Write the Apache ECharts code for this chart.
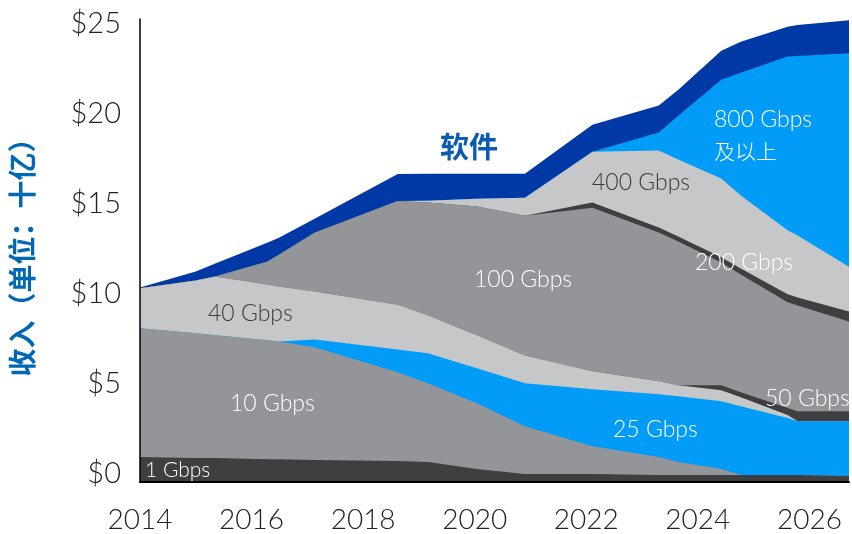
<!DOCTYPE html>
<html>
<head>
<meta charset="utf-8">
<script src="https://cdn.jsdelivr.net/npm/echarts@6/dist/echarts.min.js"></script>
<style>
html,body{margin:0;padding:0;background:#fff;}
#c{width:852px;height:534px;}
</style>
</head>
<body>
<div id="c"></div>
<script>
// x positions (years) where the stacked bands change slope
const years = [2014.00, 2015.00, 2015.35, 2016.28, 2016.49, 2017.13, 2018.62, 2019.16, 2020.04, 2020.90, 2022.11, 2023.30, 2023.65, 2024.42, 2024.77, 2025.61, 2025.79, 2026.71];
// revenue by port speed, $B (stacked from bottom)
const g1   = [1.39, 1.33, 1.33, 1.27, 1.27, 1.22, 1.16, 1.11, 0.72, 0.44, 0.44, 0.39, 0.39, 0.39, 0.39, 0.39, 0.39, 0.33];
const g10  = [7.15, 6.93, 6.82, 6.60, 6.54, 6.26, 4.93, 4.38, 3.66, 2.66, 1.55, 1.00, 0.72, 0.33, 0, 0, 0, 0];
const g25  = [0, 0, 0, 0, 0, 0.44, 1.27, 1.66, 1.94, 2.38, 3.16, 3.49, 3.66, 3.77, 3.82, 3.16, 2.99, 3.05];
const g40  = [2.22, 2.94, 3.27, 3.10, 3.05, 2.66, 2.49, 2.11, 1.83, 1.55, 1.00, 0.72, 0.61, 0.61, 0.50, 0.17, 0, 0];
const g50  = [0, 0, 0, 0, 0, 0, 0, 0, 0, 0, 0, 0, 0, 0.28, 0.28, 0.39, 0.55, 0.55];
const g100 = [0, 0, 0, 1.27, 1.77, 3.27, 5.76, 6.26, 7.15, 7.76, 9.09, 8.26, 7.98, 6.82, 6.54, 5.88, 5.88, 4.99];
const g200 = [0, 0, 0, 0, 0, 0, 0, 0, 0, 0, 0.28, 0.28, 0.28, 0.28, 0.33, 0.44, 0.44, 0.55];
const g400 = [0, 0, 0, 0, 0, 0, 0, 0.11, 0.44, 1.00, 2.83, 4.27, 4.27, 4.38, 4.05, 3.55, 3.44, 2.49];
const g800 = [0, 0, 0, 0, 0, 0, 0, 0, 0, 0, 0, 1.00, 2.44, 5.49, 6.82, 9.65, 9.98, 11.86];
const software = [0.05, 0.50, 0.72, 1.05, 0.94, 0.78, 1.50, 1.50, 1.39, 1.33, 1.50, 1.50, 1.44, 1.61, 1.72, 1.66, 1.72, 1.83];
const xTicks = [2014, 2016, 2018, 2020, 2022, 2024, 2026];
const yTicks = [0, 5, 10, 15, 20, 25];

const seriesDefs = [
  ['1 Gbps', g1], ['10 Gbps', g10], ['25 Gbps', g25], ['40 Gbps', g40], ['50 Gbps', g50],
  ['100 Gbps', g100], ['200 Gbps', g200], ['400 Gbps', g400], ['800 Gbps 及以上', g800], ['软件', software]
];
const palette = {
  dark: '#3f3f42', mid: '#939598', light: '#c6c7c9', bright: '#009cf7', navy: '#0039a6'
};
const colors = [palette.dark, palette.mid, palette.bright, palette.light, palette.dark,
                palette.mid, palette.dark, palette.light, palette.bright, palette.navy];

const FONT = 'Lato, "Noto Sans", sans-serif';
const CJK = '"Noto Sans CJK SC", "Noto Sans", sans-serif';

const chart = echarts.init(document.getElementById('c'), null, {renderer: 'canvas'});

// running totals: each band is drawn as the area under its cumulative top,
// tallest first so lower bands paint over it (same look as a stacked area)
const running = years.map(function () { return 0; });
const cumulative = seriesDefs.map(function (d) {
  return d[1].map(function (v, k) { running[k] += v; return +running[k].toFixed(3); });
});

const series = [];
for (let i = seriesDefs.length - 1; i >= 0; i--) {
  series.push({
    name: seriesDefs[i][0],
    type: 'line',
    symbol: 'none',
    smooth: false,
    silent: true,
    z: 2,
    lineStyle: {width: 0},
    areaStyle: {color: colors[i], opacity: 1, origin: 'start'},
    data: years.map(function (y, k) { return [y, cumulative[i][k]]; })
  });
}

function txt(x, y, s, color, size) {
  return {
    type: 'text', x: x, y: y, z: 100,
    style: {text: s, fill: color, font: '300 ' + size + 'px ' + FONT, textAlign: 'left', textVerticalAlign: 'middle'}
  };
}

chart.setOption({
  animation: false,
  grid: {left: 137, right: 0, top: 19, bottom: 51},
  xAxis: {
    type: 'value', min: 2014, max: 2026.71, interval: 2, z: 5,
    axisLine: {show: true, lineStyle: {color: '#000', width: 2}},
    axisTick: {show: false}, splitLine: {show: false},
    axisLabel: {
      fontFamily: FONT, fontSize: 28, fontWeight: 300, color: '#222', margin: 24,
      formatter: function (v) { return xTicks.indexOf(v) >= 0 ? String(v) : ''; }
    }
  },
  yAxis: {
    type: 'value', min: 0, max: 25.72, interval: 5, z: 5,
    axisLine: {show: true, lineStyle: {color: '#000', width: 1.5}},
    axisTick: {show: false}, splitLine: {show: false},
    axisLabel: {
      fontFamily: FONT, fontSize: 29, fontWeight: 300, color: '#222', margin: 19,
      verticalAlign: 'bottom', lineHeight: 16,
      formatter: function (v) { return yTicks.indexOf(v) >= 0 ? '$' + v : ''; }
    },
    name: '收入（单位：十亿）', nameLocation: 'middle', nameRotate: 90, nameGap: 104,
    nameTextStyle: {fontFamily: CJK, fontSize: 28, fontWeight: 'bold', color: '#0068b5'}
  },
  series: series,
  graphic: [
    txt(145, 470, '1 Gbps', '#fff', 21),
    txt(230, 404, '10 Gbps', '#fff', 23),
    txt(208, 314, '40 Gbps', '#3a3a3a', 23),
    txt(474, 280, '100 Gbps', '#fff', 23),
    txt(592, 183, '400 Gbps', '#3a3a3a', 23),
    txt(695, 263, '200 Gbps', '#fff', 23),
    txt(714, 120, '800 Gbps', '#fff', 23),
    {type: 'text', x: 714, y: 151, z: 100, style: {text: '及以上', fill: '#fff', font: '300 21px ' + CJK, textAlign: 'left', textVerticalAlign: 'middle'}},
    txt(765, 399, '50 Gbps', '#fff', 23),
    txt(613, 430, '25 Gbps', '#fff', 23),
    {type: 'text', x: 440, y: 147, z: 100, style: {text: '软件', fill: '#0a5cb0', font: 'bold 29px ' + CJK, textAlign: 'left', textVerticalAlign: 'middle'}}
  ]
});
</script>
</body>
</html>
